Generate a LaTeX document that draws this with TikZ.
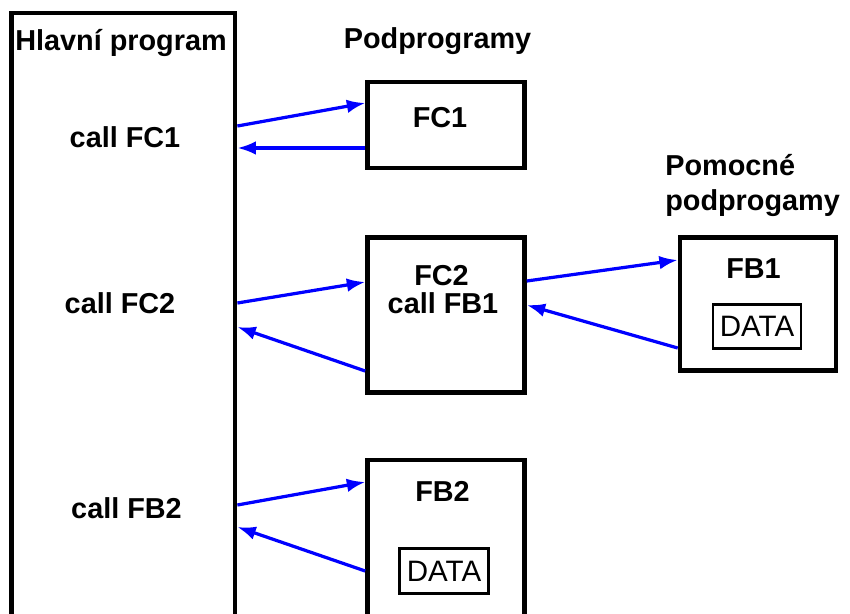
\documentclass[tikz,border=0pt]{standalone}
\usepackage{fontspec}
\setmainfont{Liberation Sans}
\usetikzlibrary{calc,arrows.meta}

\tikzset{
  blok/.style={draw,rectangle,line width=3.2pt,inner sep=0pt},
  datablok/.style={draw,rectangle,line width=1.5pt,inner sep=0pt,
    minimum width=2.2cm,minimum height=1.1cm,font=\fontsize{21}{24}\selectfont},
  popis/.style={anchor=base,inner sep=0pt,font=\fontsize{20.5}{24}\selectfont\bfseries},
  volani/.style={->,blue,line width=2.3pt},
}

\begin{document}
\begin{tikzpicture}[x=0.025cm,y=-0.025cm,>={Latex[length=4.6mm,width=3.4mm]}]
    \useasboundingbox (0,0) rectangle (850,613);
    \clip (0,0) rectangle (850,613);

    % bloky
    \node[blok,minimum width=5.585cm,minimum height=15.675cm] (main) at (123.4,326.5) {};
    \node[blok,minimum width=3.925cm,minimum height=2.15cm] (fc1) at (446,125) {};
    \node[blok,minimum width=3.925cm,minimum height=3.875cm] (fc2) at (446,315) {};
    \node[blok,minimum width=3.9cm,minimum height=3.325cm] (fb1) at (758,304) {};
    \node[blok,minimum width=3.925cm,minimum height=4.5cm] (fb2) at (446,550) {};
    \node[datablok] (data1) at (757,326.5) {DATA};
    \node[datablok,minimum width=2.225cm,minimum height=1.125cm] (data2) at (444,571) {DATA};

    % texty
    \node[popis] (hlavni) at (121,50) {Hlavní program};
    \node[popis] (podprog) at (437.5,48) {Podprogramy};
    \node[popis,anchor=base west] (pomocne) at (665,175) {Pomocné};
    \node[popis,anchor=base west] (pomocne2) at (665,210) {podprogamy};
    \node[popis] (callfc1) at (125,147) {call FC1};
    \node[popis] (callfc2) at (120,313) {call FC2};
    \node[popis] (callfb2) at (126.5,518) {call FB2};
    \node[popis] (tfc1) at (440,127) {FC1};
    \node[popis] (tfc2) at (441.5,285) {FC2};
    \node[popis] (tcallfb1) at (443,313) {call FB1};
    \node[popis] (tfb1) at (753.5,278) {FB1};
    \node[popis] (tfb2) at (442.5,501) {FB2};

    % volani a navraty
    \draw[volani] ($(main.east |- fc1.west)+(0,1)$) -- ($(fc1.west)+(0,-22)$);
    \draw[volani] ($(fc1.west)+(0,23)$) -- ($(main.east |- fc1.west)+(0,23)$);

    \draw[volani] ($(main.east |- fc2.west)+(0,-12)$) -- ($(fc2.west)+(0,-33)$);
    \draw[volani] ($(fc2.west)+(0,56)$) -- ($(main.east |- fc2.west)+(0,12)$);

    \draw[volani] ($(fc2.east)+(0,-34)$) -- ($(fb1.west)+(0,-44)$);
    \draw[volani] ($(fb1.west)+(0,44)$) -- ($(fc2.east)+(0,-10)$);

    \draw[volani] ($(main.east |- fb2.west)+(0,-45)$) -- ($(fb2.west)+(0,-68)$);
    \draw[volani] ($(fb2.west)+(0,21)$) -- ($(main.east |- fb2.west)+(0,-23)$);
\end{tikzpicture}
\end{document}
